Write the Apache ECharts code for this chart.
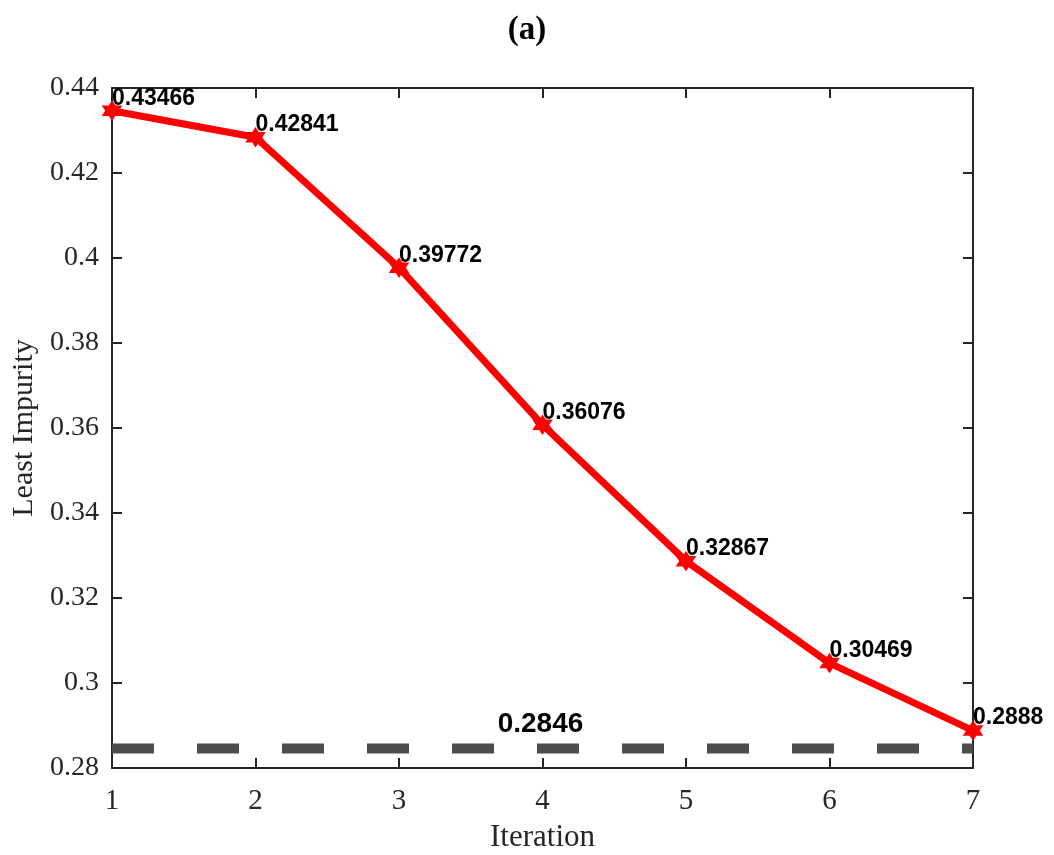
<!DOCTYPE html>
<html>
<head>
<meta charset="utf-8">
<script src="https://cdn.jsdelivr.net/npm/echarts@6/dist/echarts.min.js"></script>
<style>
  html, body { margin: 0; padding: 0; background: #fff; }
  #chart { width: 1054px; height: 855px; }
</style>
</head>
<body>
<div id="chart"></div>
<script>
// Least impurity found at each iteration
const iterations = [1, 2, 3, 4, 5, 6, 7];
const impurity = [0.43466, 0.42841, 0.39772, 0.36076, 0.32867, 0.30469, 0.2888];
// Reference level drawn as a dashed horizontal line
const baseline = 0.2846;
const yTicks = { min: 0.28, max: 0.44, step: 0.02 };

const serif = '"Liberation Serif", "DejaVu Serif", serif';
const sans = '"Liberation Sans", Arial, sans-serif';
const axisColor = '#262626';

const chart = echarts.init(document.getElementById('chart'));

const linePoints = iterations.map((x, i) => [x, impurity[i]]);

// six-pointed star marker
const star = 'path://M0,-10 L2.9,-5 L8.66,-5 L5.8,0 L8.66,5 L2.9,5 L0,10 L-2.9,5 L-8.66,5 L-5.8,0 L-8.66,-5 L-2.9,-5 Z';

const axisCommon = {
  axisLine: { show: true, onZero: false, lineStyle: { color: axisColor, width: 2 } },
  axisTick: { show: true, inside: true, length: 10, lineStyle: { color: axisColor, width: 2 } },
  splitLine: { show: false }
};

chart.setOption({
  animation: false,
  backgroundColor: '#fff',
  title: {
    text: '(a)',
    left: 'center',
    top: 9,
    textStyle: { fontFamily: serif, fontWeight: 'bold', fontSize: 33, color: '#000' }
  },
  grid: { left: 112, right: 81, top: 88, bottom: 87, containLabel: false, outerBoundsMode: 'none' },
  xAxis: [
    Object.assign({
      type: 'value', min: 1, max: 7, interval: 1, position: 'bottom',
      name: 'Iteration', nameLocation: 'middle', nameGap: 54,
      nameTextStyle: { fontFamily: serif, fontSize: 31, color: axisColor },
      axisLabel: { fontFamily: serif, fontSize: 29, color: axisColor, margin: 19 }
    }, axisCommon),
    Object.assign({
      type: 'value', min: 1, max: 7, interval: 1, position: 'top',
      axisLabel: { show: false }
    }, axisCommon)
  ],
  yAxis: [
    Object.assign({
      type: 'value', min: yTicks.min, max: yTicks.max, interval: yTicks.step, position: 'left',
      name: 'Least Impurity', nameLocation: 'middle', nameGap: 72,
      nameTextStyle: { fontFamily: serif, fontSize: 30, color: axisColor },
      axisLabel: {
        fontFamily: serif, fontSize: 28, color: axisColor, margin: 13,
        formatter: v => String(parseFloat(v.toFixed(2)))
      }
    }, axisCommon),
    Object.assign({
      type: 'value', min: yTicks.min, max: yTicks.max, interval: yTicks.step, position: 'right',
      axisLabel: { show: false }
    }, axisCommon)
  ],
  series: [
    {
      type: 'line',
      data: [[iterations[0], baseline], [iterations[iterations.length - 1], baseline]],
      symbol: 'none',
      lineStyle: { color: '#4d4d4d', width: 10, type: [42, 43], cap: 'butt' },
      silent: true,
      z: 1
    },
    {
      type: 'scatter',
      data: [[(iterations[0] + iterations[iterations.length - 1]) / 2, baseline]],
      symbolSize: 0,
      itemStyle: { color: '#000', opacity: 1 },
      label: {
        show: true,
        position: 'inside',
        align: 'center',
        verticalAlign: 'bottom',
        offset: [-2, -10],
        formatter: String(baseline),
        fontFamily: sans, fontWeight: 'bold', fontSize: 28, color: '#000',
        textBorderWidth: 0,
        opacity: 1
      },
      silent: true,
      z: 3
    },
    {
      type: 'line',
      data: linePoints,
      symbol: star,
      symbolSize: 15,
      itemStyle: { color: '#ff0000', borderColor: '#ff0000', borderWidth: 3 },
      lineStyle: { color: '#ff0000', width: 7 },
      label: {
        show: true,
        position: 'inside',
        align: 'left',
        verticalAlign: 'bottom',
        offset: [0, -1],
        formatter: p => String(p.value[1]),
        fontFamily: sans, fontWeight: 'bold', fontSize: 23, color: '#000',
        textBorderWidth: 0
      },
      z: 4
    }
  ]
});
</script>
</body>
</html>
